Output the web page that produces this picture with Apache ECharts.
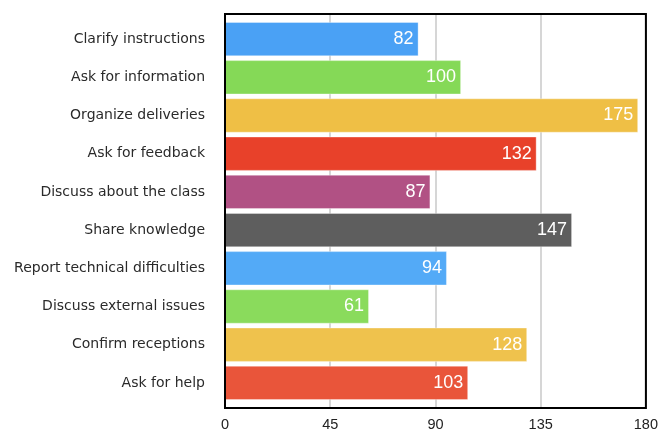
<!DOCTYPE html>
<html>
<head>
<meta charset="utf-8">
<script src="https://cdn.jsdelivr.net/npm/echarts@6/dist/echarts.min.js"></script>
<style>
  html, body { margin: 0; padding: 0; background: #fff; }
  #chart { width: 661px; height: 432px; }
</style>
</head>
<body>
<div id="chart"></div>
<script>
// Activities, listed top to bottom
const categories = [
  'Clarify instructions',
  'Ask for information',
  'Organize deliveries',
  'Ask for feedback',
  'Discuss about the class',
  'Share knowledge',
  'Report technical difficulties',
  'Discuss external issues',
  'Confirm receptions',
  'Ask for help'
];
const counts = [82, 100, 175, 132, 87, 147, 94, 61, 128, 103];
const barColors = [
  '#4aa1f5', '#85d957', '#efbf45', '#e8412a', '#b15184',
  '#5e5e5e', '#53aaf7', '#8adb5c', '#efc24d', '#e9553a'
];
const xTicks = [0, 45, 90, 135, 180];

const LABEL_FONT = '"DejaVu Sans", Verdana, sans-serif';
const VALUE_FONT = '"Liberation Sans", Arial, sans-serif';
const LEFT = 225, RIGHT = 11;

const chart = echarts.init(document.getElementById('chart'), null, { renderer: 'canvas' });

chart.setOption({
  animation: false,
  grid: [
    // frame with gridlines and value axis
    { left: LEFT, right: RIGHT, top: 14, bottom: 23, show: true, borderColor: '#000', borderWidth: 2, backgroundColor: 'transparent', z: 3 },
    // bars
    { left: LEFT, right: RIGHT, top: 20, bottom: 30 }
  ],
  xAxis: [
    {
      gridIndex: 0, type: 'value', min: xTicks[0], max: xTicks[xTicks.length - 1], interval: 45,
      axisLine: { show: false }, axisTick: { show: false },
      splitLine: { show: true, lineStyle: { color: '#c8c8c8', width: 1.5 } },
      axisLabel: { color: '#222', fontFamily: VALUE_FONT, fontSize: 14.5, margin: 9 }
    },
    {
      gridIndex: 1, type: 'value', min: xTicks[0], max: xTicks[xTicks.length - 1],
      show: false
    }
  ],
  yAxis: [
    { gridIndex: 0, type: 'value', show: false, min: 0, max: 1 },
    {
      gridIndex: 1, type: 'category', data: categories, inverse: true,
      axisLine: { show: false }, axisTick: { show: false },
      axisLabel: { color: '#2a2a2a', fontFamily: LABEL_FONT, fontSize: 14, margin: 20 }
    }
  ],
  series: [{
    type: 'bar',
    xAxisIndex: 1,
    yAxisIndex: 1,
    barCategoryGap: '10%',
    data: counts.map((v, i) => ({
      value: v,
      itemStyle: { color: barColors[i], borderColor: 'rgba(255,255,255,0.35)', borderWidth: 1 }
    })),
    label: {
      show: true,
      position: 'insideRight',
      distance: 5,
      color: '#fff',
      fontFamily: VALUE_FONT,
      fontSize: 18
    }
  }]
});
</script>
</body>
</html>
